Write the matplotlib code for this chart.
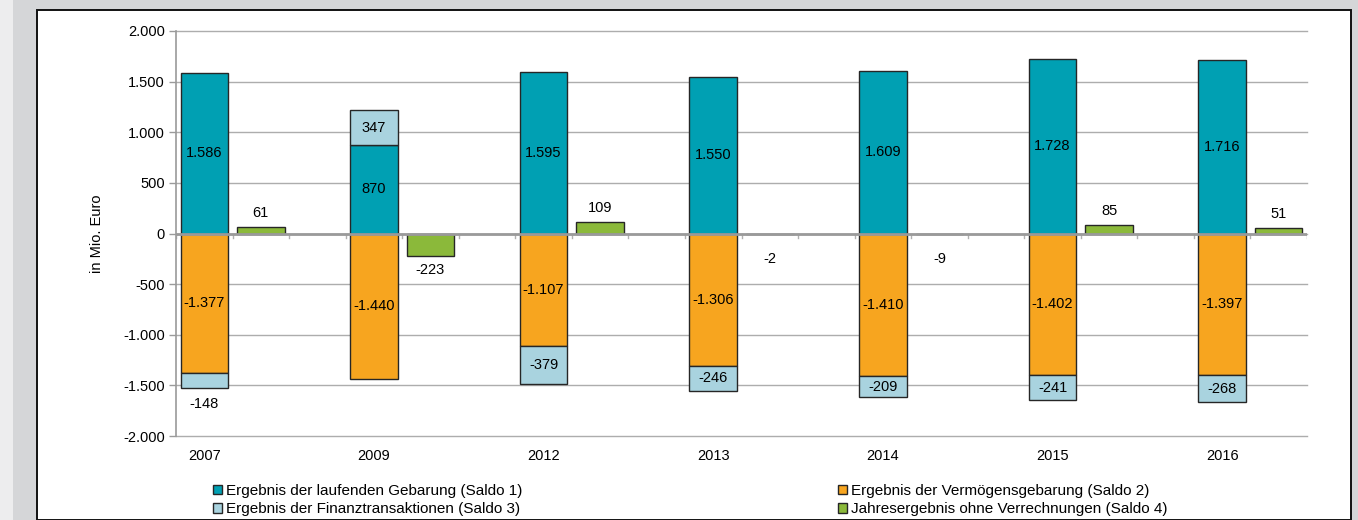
import matplotlib
matplotlib.use("Agg")
import matplotlib.pyplot as plt
from matplotlib.patches import Rectangle, Patch
from matplotlib.ticker import FuncFormatter
import numpy as np

plt.rcParams['font.family'] = ['Liberation Sans', 'DejaVu Sans']

years = ['2007', '2009', '2012', '2013', '2014', '2015', '2016']
saldo1 = [1586, 870, 1595, 1550, 1609, 1728, 1716]
saldo2 = [-1377, -1440, -1107, -1306, -1410, -1402, -1397]
saldo3 = [-148, 347, -379, -246, -209, -241, -268]
saldo4 = [61, -223, 109, -2, -9, 85, 51]

names = ['Ergebnis der laufenden Gebarung (Saldo 1)',
         'Ergebnis der Vermögensgebarung (Saldo 2)',
         'Ergebnis der Finanztransaktionen (Saldo 3)',
         'Jahresergebnis ohne Verrechnungen (Saldo 4)']
colors = ['#00a0b3', '#f7a51f', '#a9d3df', '#8bb93a']
edge = '#262626'
FS = 10.5


def fmt(v):
    return f"{v:,}".replace(",", ".")


W, H = 1358, 520
fig = plt.figure(figsize=(W / 100, H / 100), dpi=100)
fig.patch.set_facecolor('#d5d6d8')
# white panel with dark frame
fig.add_artist(Rectangle((37 / W, 0), (1351 - 37) / W, 1 - 10 / H,
                         transform=fig.transFigure, facecolor='white',
                         edgecolor='#111111', linewidth=1.4, zorder=0))
fig.add_artist(Rectangle((0, 0), 13 / W, 1, transform=fig.transFigure,
                         facecolor='#ededee', edgecolor='none', zorder=0))

ax = fig.add_axes([176 / W, 1 - 436 / H, (1307 - 176) / W, (436 - 31) / H])
ax.set_facecolor('none')

x = np.arange(len(years))
bw = 0.28
gx = x + 1 / 3

# stacked bar: saldo 1 up, saldo 2 down, saldo 3 on whichever side it falls
ax.bar(x, saldo1, bw, color=colors[0], edgecolor=edge, linewidth=1, zorder=3)
ax.bar(x, saldo2, bw, color=colors[1], edgecolor=edge, linewidth=1, zorder=3)
s3_base = [p if v > 0 else n for v, p, n in zip(saldo3, saldo1, saldo2)]
ax.bar(x, saldo3, bw, bottom=s3_base, color=colors[2], edgecolor=edge,
       linewidth=1, zorder=3)
ax.bar(gx, saldo4, bw, color=colors[3], edgecolor=edge, linewidth=1, zorder=3)

# value labels
for i in range(len(years)):
    ax.text(x[i], saldo1[i] / 2, fmt(saldo1[i]), ha='center', va='center',
            fontsize=FS, zorder=5)
    ax.text(x[i], saldo2[i] / 2, fmt(saldo2[i]), ha='center', va='center',
            fontsize=FS, zorder=5)
    if abs(saldo3[i]) < 180:
        ax.text(x[i], s3_base[i] + saldo3[i] - 160, fmt(saldo3[i]),
                ha='center', va='center', fontsize=FS, zorder=5)
    else:
        ax.text(x[i], s3_base[i] + saldo3[i] / 2, fmt(saldo3[i]),
                ha='center', va='center', fontsize=FS, zorder=5)
    v = saldo4[i]
    ly = v + 140 if v > 0 else min(v - 140, -250)
    ax.text(gx[i], ly, fmt(v), ha='center', va='center', fontsize=FS, zorder=5)

ax.set_ylim(-2000, 2000)
ax.set_xlim(-1 / 6, 6.5)
ax.set_yticks(np.arange(-2000, 2001, 500))
ax.yaxis.set_major_formatter(FuncFormatter(lambda v, p: fmt(int(v))))
ax.set_xticks(x)
ax.set_xticklabels(years)
ax.tick_params(axis='x', length=0, pad=9, labelsize=FS)
ax.tick_params(axis='y', length=5, color='#9a9a9a', width=1, labelsize=FS, pad=3)
ax.grid(axis='y', color='#adadad', linewidth=1, zorder=1)
for gl in ax.get_ygridlines():
    gl.set_clip_on(False)
for s in ['top', 'right', 'bottom']:
    ax.spines[s].set_visible(False)
ax.spines['left'].set_color('#9a9a9a')
ax.spines['left'].set_linewidth(1.2)

# zero line with small slot ticks
ax.axhline(0, color='#9a9a9a', linewidth=2, zorder=4)
for t in np.arange(-1 / 6, 6.5, 1 / 3):
    ax.plot([t, t], [0, -40], color='#b0b0b0', linewidth=1, zorder=2)

ax.set_ylabel('in Mio. Euro', fontsize=FS)
ax.yaxis.set_label_coords(-72 / (1307 - 176), 0.5)

# legend in two columns, each placed on its own
handles = [Patch(facecolor=c, edgecolor=edge, linewidth=1) for c in colors]
for cols, x0 in [([0, 2], 199), ([1, 3], 824)]:
    leg = fig.legend([handles[k] for k in cols], [names[k] for k in cols],
                     loc='upper left', bbox_to_anchor=(x0 / W, 1 - 470 / H),
                     frameon=False, fontsize=11, handlelength=0.6,
                     handleheight=0.6, handletextpad=0.3, labelspacing=0.3)

fig.savefig('out.png', dpi=100)
